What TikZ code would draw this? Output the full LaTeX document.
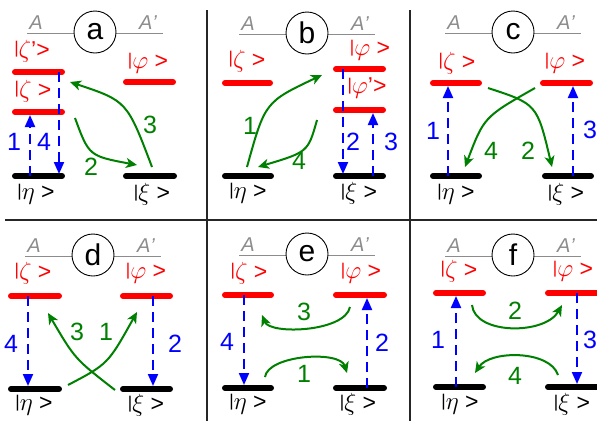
\documentclass[tikz,border=0pt]{standalone}
\usepackage{fontspec}
\setmainfont{Liberation Sans}
\usetikzlibrary{arrows.meta}
\definecolor{lred}{RGB}{255,0,0}
\definecolor{lblue}{RGB}{0,0,255}
\definecolor{lgreen}{RGB}{0,128,0}
\definecolor{lgray}{RGB}{140,140,140}
\newcommand\kbar{\raisebox{3.4pt}{\fontsize{17}{17}\selectfont|}}
\tikzset{
  lev/.style={line width=6pt, line cap=round},
  exc/.style={lev, draw=lred},
  gnd/.style={lev, draw=black},
  blu/.style={draw=lblue, line width=2pt, dash pattern=on 10pt off 6pt, -{Triangle[length=12pt,width=10pt]}},
  grn/.style={draw=lgreen, line width=2pt, -{Stealth[length=11pt,width=10pt,inset=3pt]}},
  ket/.style={font=\fontsize{23}{23}\selectfont, inner sep=0pt, yshift=-2.5pt},
  kex/.style={font=\fontsize{23}{23}\selectfont, inner sep=0pt, text=lred, yshift=2pt},
  bnum/.style={font=\fontsize{25}{25}\selectfont, text=lblue, inner sep=0pt},
  gnum/.style={font=\fontsize{25}{25}\selectfont, text=lgreen, inner sep=0pt},
  alab/.style={font=\fontsize{20}{20}\selectfont\itshape, text=lgray, inner sep=0pt},
  circ/.style={circle, draw=black, line width=0.9pt, fill=white, minimum size=42pt, inner sep=0pt, font=\fontsize{30}{30}\selectfont},
  gline/.style={draw=lgray, line width=1pt},
  divider/.style={draw=black!85, line width=1.6pt}
}
\newcommand\panelhdr[4]{%
  \coordinate (#1L) at (#2-68,#3+1);
  \coordinate (#1R) at (#2+68,#3+1);
  \draw[gline] (#1L) -- (#1R);
  \node[circ] (#1) at (#2,#3) {#4};
  \node[alab] (#1A) at (#2-59,#3-9) {A};
  \node[alab] (#1Ap) at (#2+53,#3-9) {A\/'};
}
\begin{document}
\begin{tikzpicture}[x=1pt,y=-1pt]
\useasboundingbox (0,0) rectangle (597,421);
% dividers
\coordinate (v1t) at (207,10); \coordinate (v1b) at (207,421);
\coordinate (v2t) at (410,10); \coordinate (v2b) at (410,421);
\coordinate (hl) at (5,220); \coordinate (hr) at (597,220);
\draw[divider] (v1t) -- (v1b);
\draw[divider] (v2t) -- (v2b);
\draw[divider] (hl) -- (hr);

% ================= panel a
\panelhdr{pa}{95}{32}{a}
\draw[exc] (15,72) -- (62,72);
\draw[exc] (15,112) -- (62,112);
\draw[exc] (126,82) -- (173,82);
\draw[gnd] (15,176) -- (62,176);
\draw[gnd] (126,176) -- (174,176);
\node[kex] (a-zp) at (32,53) {\kbar$\zeta$'>};
\node[kex] (a-z) at (33,93) {\kbar$\zeta$ >};
\node[kex] (a-f) at (148,65) {\kbar$\varphi$ >};
\node[ket] (a-e) at (36,192) {\kbar$\eta$ >};
\node[ket] (a-x) at (152,192) {\kbar$\xi$ >};
\coordinate (a1s) at (30,176); \coordinate (a1e) at (30,115);
\coordinate (a4s) at (59,72); \coordinate (a4e) at (59,174);
\draw[blu] (a1s) -- (a1e);
\draw[blu] (a4s) -- (a4e);
\node[bnum] (a-n1) at (14,142) {1};
\node[bnum] (a-n4) at (44,142) {4};
\coordinate (a2s) at (75,118); \coordinate (a2e) at (137,165);
\coordinate (a3s) at (152,167); \coordinate (a3e) at (70,82);
\draw[grn] (a2s) .. controls (89,156) .. (a2e);
\draw[grn] (a3s) .. controls (127,101) .. (a3e);
\node[gnum] (a-n2) at (91,167) {2};
\node[gnum] (a-n3) at (150,125) {3};

% ================= panel b
\panelhdr{pb}{307}{33}{b}
\draw[exc] (225,83) -- (270,83);
\draw[exc] (336,69) -- (383,69);
\draw[exc] (336,110) -- (383,110);
\draw[gnd] (225,176) -- (271,176);
\draw[gnd] (336,176) -- (383,176);
\node[kex] (b-z) at (247,63) {\kbar$\zeta$ >};
\node[kex] (b-f) at (370,52) {\kbar$\varphi$ >};
\node[kex] (b-fp) at (367,90) {\kbar$\varphi$'>};
\node[ket] (b-e) at (248,191) {\kbar$\eta$ >};
\node[ket] (b-x) at (359,191) {\kbar$\xi$ >};
\coordinate (b2s) at (343,69); \coordinate (b2e) at (343,174);
\coordinate (b3s) at (373,176); \coordinate (b3e) at (373,113);
\draw[blu] (b2s) -- (b2e);
\draw[blu] (b3s) -- (b3e);
\node[bnum] (b-n2) at (353,142) {2};
\node[bnum] (b-n3) at (391,142) {3};
\coordinate (b1s) at (247,167); \coordinate (b1e) at (322,75);
\coordinate (b4s) at (317,120); \coordinate (b4e) at (258,167);
\draw[grn] (b1s) .. controls (265,102) .. (b1e);
\draw[grn] (b4s) .. controls (308,152) .. (b4e);
\node[gnum] (b-n1) at (250,126) {1};
\node[gnum] (b-n4) at (299,161) {4};

% ================= panel c
\panelhdr{pc}{513}{32}{c}
\draw[exc] (433,83) -- (479,83);
\draw[exc] (543,83) -- (590,83);
\draw[gnd] (433,176) -- (479,176);
\draw[gnd] (545,176) -- (591,176);
\node[kex] (c-z) at (457,65) {\kbar$\zeta$ >};
\node[kex] (c-f) at (565,65) {\kbar$\varphi$ >};
\node[ket] (c-e) at (456,192) {\kbar$\eta$ >};
\node[ket] (c-x) at (566,192) {\kbar$\xi$ >};
\coordinate (c1s) at (448,176); \coordinate (c1e) at (448,86);
\coordinate (c3s) at (573,176); \coordinate (c3e) at (573,86);
\draw[blu] (c1s) -- (c1e);
\draw[blu] (c3s) -- (c3e);
\node[bnum] (c-n1) at (433,131) {1};
\node[bnum] (c-n3) at (590,130) {3};
\coordinate (c2s) at (488,88); \coordinate (c2e) at (552,167);
\coordinate (c4s) at (535,88); \coordinate (c4e) at (465,167);
\draw[grn] (c2s) .. controls (537,104) .. (c2e);
\draw[grn] (c4s) .. controls (484,117) .. (c4e);
\node[gnum] (c-n4) at (491,151) {4};
\node[gnum] (c-n2) at (528,151) {2};

% ================= panel d
\panelhdr{pd}{93}{255}{d}
\draw[exc] (11,296) -- (59,296);
\draw[exc] (123,296) -- (170,296);
\draw[gnd] (11,389) -- (59,389);
\draw[gnd] (123,389) -- (170,389);
\node[kex] (d-z) at (33,275) {\kbar$\zeta$ >};
\node[kex] (d-f) at (146,275) {\kbar$\varphi$ >};
\node[ket] (d-e) at (34,403) {\kbar$\eta$ >};
\node[ket] (d-x) at (146,403) {\kbar$\xi$ >};
\coordinate (d4s) at (28,296); \coordinate (d4e) at (28,386);
\coordinate (d2s) at (153,296); \coordinate (d2e) at (153,386);
\draw[blu] (d4s) -- (d4e);
\draw[blu] (d2s) -- (d2e);
\node[bnum] (d-n4) at (11,344) {4};
\node[bnum] (d-n2) at (175,344) {2};
\coordinate (d3s) at (115,390); \coordinate (d3e) at (48,313);
\coordinate (d1s) at (68,385); \coordinate (d1e) at (137,312);
\draw[grn] (d3s) .. controls (75,359) .. (d3e);
\draw[grn] (d1s) .. controls (108,364) .. (d1e);
\node[gnum] (d-n3) at (77,332) {3};
\node[gnum] (d-n1) at (106,332) {1};

% ================= panel e
\panelhdr{pe}{307}{254}{e}
\draw[exc] (225,295) -- (271,295);
\draw[exc] (336,295) -- (384,295);
\draw[gnd] (225,388) -- (271,388);
\draw[gnd] (336,388) -- (384,388);
\node[kex] (e-z) at (249,275) {\kbar$\zeta$ >};
\node[kex] (e-f) at (361,275) {\kbar$\varphi$ >};
\node[ket] (e-e) at (248,402) {\kbar$\eta$ >};
\node[ket] (e-x) at (358,402) {\kbar$\xi$ >};
\coordinate (e4s) at (244,295); \coordinate (e4e) at (244,385);
\coordinate (e2s) at (367,388); \coordinate (e2e) at (367,298);
\draw[blu] (e4s) -- (e4e);
\draw[blu] (e2s) -- (e2e);
\node[bnum] (e-n4) at (227,342) {4};
\node[bnum] (e-n2) at (382,343) {2};
\coordinate (e3s) at (350,307); \coordinate (e3e) at (262,315);
\coordinate (e1s) at (265,377); \coordinate (e1e) at (347,373);
\draw[grn] (e3s) .. controls (345,332) and (270,335) .. (e3e);
\draw[grn] (e1s) .. controls (268,355) and (340,350) .. (e1e);
\node[gnum] (e-n3) at (304,312) {3};
\node[gnum] (e-n1) at (304,374) {1};

% ================= panel f
\panelhdr{pf}{513}{255}{f}
\draw[exc] (436,293) -- (483,293);
\draw[exc] (548,293) -- (600,293);
\draw[gnd] (436,387) -- (483,387);
\draw[gnd] (548,387) -- (600,387);
\node[kex] (f-z) at (459,273) {\kbar$\zeta$ >};
\node[kex] (f-f) at (573,273) {\kbar$\varphi$ >};
\node[ket] (f-e) at (460,402) {\kbar$\eta$ >};
\node[ket] (f-x) at (572,402) {\kbar$\xi$ >};
\coordinate (f1s) at (456,387); \coordinate (f1e) at (456,296);
\coordinate (f3s) at (577,293); \coordinate (f3e) at (577,384);
\draw[blu] (f1s) -- (f1e);
\draw[blu] (f3s) -- (f3e);
\node[bnum] (f-n1) at (438,340) {1};
\node[bnum] (f-n3) at (590,340) {3};
\coordinate (f2s) at (472,305); \coordinate (f2e) at (562,305);
\coordinate (f4s) at (558,375); \coordinate (f4e) at (475,373);
\draw[grn] (f2s) .. controls (475,335) and (545,335) .. (f2e);
\draw[grn] (f4s) .. controls (550,350) and (490,350) .. (f4e);
\node[gnum] (f-n2) at (515,311) {2};
\node[gnum] (f-n4) at (515,376) {4};
\end{tikzpicture}
\end{document}
